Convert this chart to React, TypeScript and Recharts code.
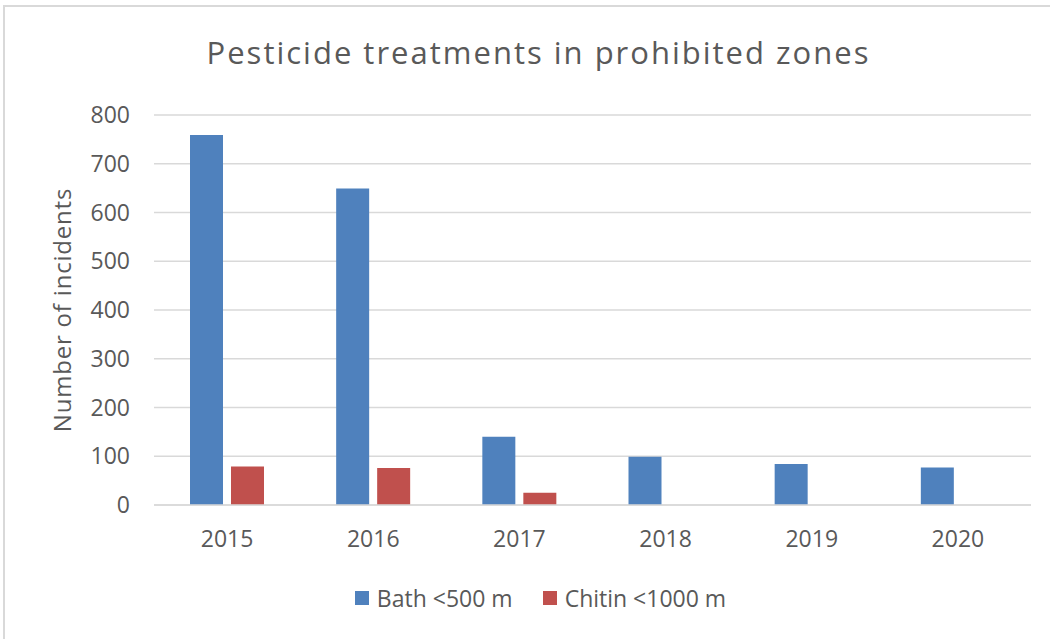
import { BarChart, Bar, XAxis, YAxis, CartesianGrid, Legend } from "recharts";

const years = ["2015", "2016", "2017", "2018", "2019", "2020"];
const bath = [759, 649, 140, 99, 84, 77];
const chitin = [79, 76, 25, 0, 0, 0];
const yTicks = [0, 100, 200, 300, 400, 500, 600, 700, 800];

const data = years.map((year, i) => ({ year, bath: bath[i], chitin: chitin[i] }));

const FONT = "'Open Sans', sans-serif";
const INK = "#595959";
const GRID = "#D9D9D9";

/* ── legend: square swatch + label ── */
function LegendContent({ payload }: any) {
  return (
    <div
      style={{
        display: "flex",
        justifyContent: "center",
        alignItems: "center",
        height: 30,
        paddingLeft: 31,
        fontFamily: FONT,
        fontSize: 23,
        color: INK,
      }}
    >
      {(payload || []).map((p: any) => (
        <div key={p.value} style={{ display: "flex", alignItems: "center", margin: "0 15px" }}>
          <span style={{ width: 14, height: 14, background: p.color, marginRight: 8 }} />
          <span>{p.value}</span>
        </div>
      ))}
    </div>
  );
}

export default function App() {
  return (
    <div
      style={{
        position: "absolute",
        left: 0,
        top: 0,
        width: 1050,
        height: 639,
        overflow: "hidden",
        background: "#fff",
      }}
    >
      <div
        style={{
          position: "absolute",
          left: 3,
          top: 5,
          width: 1100,
          height: 700,
          border: `2px solid ${GRID}`,
        }}
      />
      <div
        style={{
          position: "absolute",
          top: 31,
          left: 0,
          width: 1077,
          textAlign: "center",
          fontFamily: FONT,
          fontSize: 31,
          letterSpacing: 2,
          color: INK,
        }}
      >
        Pesticide treatments in prohibited zones
      </div>
      <div style={{ position: "absolute", left: 0, top: 0 }}>
        <BarChart
          width={1050}
          height={639}
          data={data}
          margin={{ top: 115, right: 19, bottom: 64, left: 0 }}
          barSize={33}
          barGap={8}
        >
          <CartesianGrid vertical={false} stroke={GRID} strokeWidth={1.5} />
          <XAxis
            dataKey="year"
            height={40}
            tickLine={false}
            tickSize={0}
            tickMargin={26}
            axisLine={{ stroke: GRID, strokeWidth: 1.5 }}
            tick={{ fill: INK, fontSize: 23, fontFamily: FONT }}
          />
          <YAxis
            width={154}
            domain={[0, 800]}
            ticks={yTicks}
            interval={0}
            axisLine={false}
            tickLine={false}
            tickSize={0}
            tickMargin={24}
            tick={{ fill: INK, fontSize: 23, fontFamily: FONT }}
            label={{
              value: "Number of incidents",
              angle: -90,
              position: "insideLeft",
              offset: 62,
              style: {
                textAnchor: "middle",
                fill: INK,
                fontSize: 24,
                letterSpacing: 0.8,
                fontFamily: FONT,
              },
            }}
          />
          <Legend
            verticalAlign="bottom"
            height={30}
            content={<LegendContent />}
            wrapperStyle={{ top: 583, bottom: "auto", left: 0, width: 1050 }}
          />
          <Bar dataKey="bath" name="Bath <500 m" fill="#4F81BD" isAnimationActive={false} />
          <Bar dataKey="chitin" name="Chitin <1000 m" fill="#C0504D" isAnimationActive={false} />
        </BarChart>
      </div>
    </div>
  );
}
